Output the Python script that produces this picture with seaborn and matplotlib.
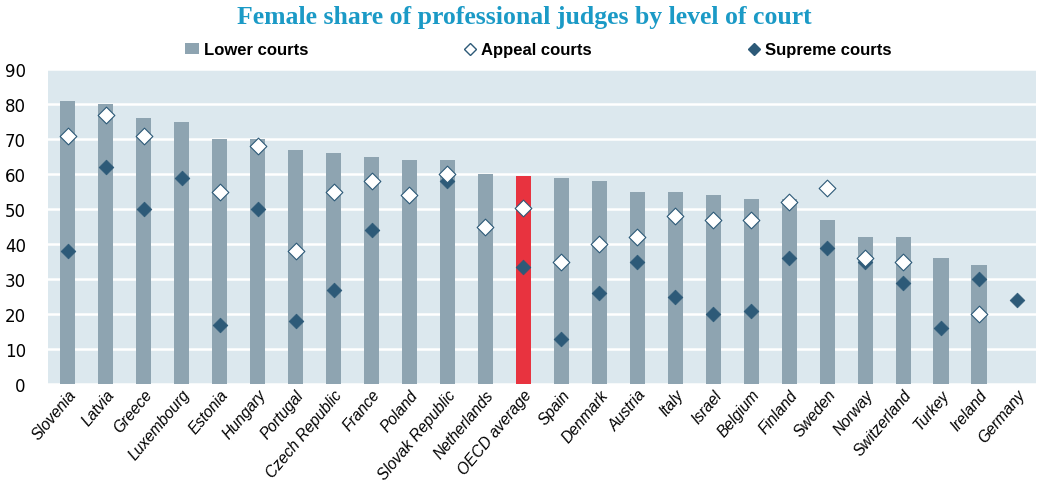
import numpy as np
import pandas as pd
import seaborn as sns
import matplotlib.pyplot as plt
from matplotlib.lines import Line2D
from matplotlib.patches import Patch

# Values (%)
countries = ['Slovenia', 'Latvia', 'Greece', 'Luxembourg', 'Estonia', 'Hungary', 'Portugal',
             'Czech Republic', 'France', 'Poland', 'Slovak Republic', 'Netherlands', 'OECD average',
             'Spain', 'Denmark', 'Austria', 'Italy', 'Israel', 'Belgium', 'Finland', 'Sweden',
             'Norway', 'Switzerland', 'Turkey', 'Ireland', 'Germany']
lower = [81, 80, 76, 75, 70, 70, 67, 66, 65, 64, 64, 60, 59.3, 59, 58, 55, 55, 54, 53, 53, 47,
         42, 42, 36, 34, np.nan]
appeal = [71, 77, 71, np.nan, 55, 68, 38, 55, 58, 54, 60, 45, 50.3, 35, 40, 42, 48, 47, 47, 52, 56,
          36, 35, np.nan, 20, np.nan]
supreme = [38, 62, 50, 59, 17, 50, 18, 27, 44, np.nan, 58, np.nan, 33.5, 13, 26, 35, 25, 20, 21, 36, 39,
           35, 29, 16, 30, 24]

bar_col = '#8ea4b1'
oecd_col = '#e8333f'
dark = '#2d5a78'
bg = '#dce8ee'
title_col = '#1b9ac6'

df = pd.DataFrame({'country': countries, 'lower': lower, 'appeal': appeal, 'supreme': supreme})
palette = {c: (oecd_col if c == 'OECD average' else bar_col) for c in countries}

fig = plt.figure(figsize=(10.48, 4.85), dpi=100)
ax = fig.add_axes([48 / 1048, 100 / 485, 988 / 1048, 315 / 485])
ax.set_facecolor(bg)

sns.barplot(data=df, x='country', y='lower', hue='country', palette=palette, order=countries,
            width=0.4, legend=False, saturation=1, ax=ax, zorder=2)
sns.stripplot(data=df, x='country', y='supreme', order=countries, jitter=False, marker='D', s=7.5,
              color=dark, edgecolor=dark, linewidth=0.5, ax=ax, zorder=3)
sns.stripplot(data=df, x='country', y='appeal', order=countries, jitter=False, marker='D', s=8.5,
              color='white', edgecolor=dark, linewidth=0.8, ax=ax, zorder=4)

ax.set_ylim(0, 90)
ax.set_xlim(-0.52, len(countries) - 0.5)
ax.set_yticks(range(0, 91, 10))
ax.yaxis.grid(True, color='white', linewidth=1.8, zorder=1)
ax.set_axisbelow(True)
for s in ax.spines.values():
    s.set_visible(False)
ax.tick_params(length=0)
ax.set_xlabel('')
ax.set_ylabel('')
ax.tick_params(axis='y', labelsize=12, pad=16)
ax.tick_params(axis='x', pad=2)
ax.set_xticks(range(len(countries)))
ax.set_xticklabels(countries, rotation=50, ha='right', rotation_mode='anchor',
                   fontsize=11.2, fontstyle='italic', family='Liberation Sans')

fig.text(0.5, 0.963, 'Female share of professional judges by level of court', ha='center', va='center',
         fontsize=18.5, fontweight='bold', color=title_col, family='Liberation Serif')

handles = [Patch(facecolor=bar_col, edgecolor='none'),
           Line2D([], [], marker='D', ls='', markersize=6, markerfacecolor='white', markeredgecolor=dark),
           Line2D([], [], marker='D', ls='', markersize=6, markerfacecolor=dark, markeredgecolor=dark)]
fig.legend(handles, ['Lower courts', 'Appeal courts', 'Supreme courts'], loc='center',
           bbox_to_anchor=(0.514, 0.895), ncol=3, frameon=False, columnspacing=9.3,
           handlelength=0.8, handletextpad=0.3,
           prop={'family': 'Liberation Sans', 'weight': 'bold', 'size': 12})

fig.savefig('out.png', dpi=100)
